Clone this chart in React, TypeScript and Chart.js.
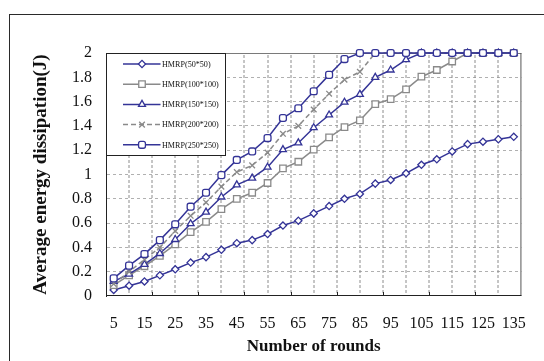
import React, { useEffect, useRef } from 'react';
import { Chart, registerables } from 'chart.js';
import { drawPoint } from 'chart.js/helpers';

Chart.register(...registerables);

const rounds = [5, 10, 15, 20, 25, 30, 35, 40, 45, 50, 55, 60, 65, 70, 75, 80, 85, 90, 95, 100, 105, 110, 115, 120, 125, 130, 135];
const labeledRounds = [5, 15, 25, 35, 45, 55, 65, 75, 85, 95, 105, 115, 125, 135];
const seriesNames = ['HMRP(50*50)', 'HMRP(100*100)', 'HMRP(150*150)', 'HMRP(200*200)', 'HMRP(250*250)'];

const hmrp50 = [0.05, 0.085, 0.12, 0.17, 0.22, 0.275, 0.32, 0.38, 0.435, 0.46, 0.51, 0.58, 0.62, 0.68, 0.74, 0.8, 0.84, 0.925, 0.955, 1.01, 1.08, 1.125, 1.19, 1.25, 1.27, 1.29, 1.31];
const hmrp100 = [0.09, 0.17, 0.245, 0.33, 0.425, 0.525, 0.61, 0.715, 0.8, 0.85, 0.93, 1.05, 1.105, 1.205, 1.305, 1.39, 1.445, 1.58, 1.62, 1.7, 1.805, 1.86, 1.93, 2, 2, 2, 2];
const hmrp150 = [0.12, 0.18, 0.26, 0.35, 0.465, 0.595, 0.69, 0.815, 0.915, 0.97, 1.06, 1.205, 1.26, 1.385, 1.49, 1.595, 1.66, 1.8, 1.86, 1.945, 2, 2, 2, 2, 2, 2, 2];
const hmrp200 = [0.1, 0.2, 0.3, 0.4, 0.535, 0.66, 0.77, 0.9, 1.02, 1.075, 1.18, 1.335, 1.4, 1.535, 1.665, 1.78, 1.845, 2, 2, 2, 2, 2, 2, 2, 2, 2, 2];
const hmrp250 = [0.145, 0.25, 0.345, 0.46, 0.59, 0.735, 0.85, 0.995, 1.12, 1.19, 1.3, 1.465, 1.545, 1.685, 1.82, 1.95, 2, 2, 2, 2, 2, 2, 2, 2, 2, 2, 2];

const BLUE = '#343497';
const GRAY = '#8a8a8a';
const GRID = '#b0b0b0';
const VGRID = '#8c8c8c';
const DARK = '#222222';
const FAMILY = '"Liberation Serif", "Times New Roman", serif';

// x axis range (rounds) and vertical gridline spacing of the original plot
const X_MIN = 2.5;
const X_MAX = 137.5;
const GRID_STEP = 7.5;

export default function App() {
  const ref = useRef<HTMLCanvasElement>(null);

  useEffect(() => {
    document.body.style.margin = '0';
    const canvas = ref.current;
    if (!canvas) return;

    const framePlugin = {
      id: 'framePlugin',
      beforeDraw(chart: any) {
        const { ctx, chartArea: a } = chart;
        ctx.save();
        ctx.fillStyle = '#ffffff';
        ctx.fillRect(a.left, a.top, a.right - a.left, a.bottom - a.top);
        ctx.restore();
      },
      beforeDatasetsDraw(chart: any) {
        const { ctx, chartArea: a } = chart;
        const xs = chart.scales.x;
        ctx.save();
        ctx.lineWidth = 1;
        const n = Math.round((X_MAX - X_MIN) / GRID_STEP);
        for (let k = 1; k < n; k++) {
          const v = X_MIN + k * GRID_STEP;
          const px = Math.round(Number(xs.getPixelForValue(v)));
          if (!isFinite(px)) continue;
          // dashed vertical gridline (slightly soft, like the scanned original)
          ctx.strokeStyle = VGRID;
          ctx.setLineDash([3, 2]);
          ctx.beginPath();
          ctx.moveTo(px, a.top + 2);
          ctx.lineTo(px, a.bottom);
          ctx.stroke();
          if (k % 2 === 0) {
            ctx.setLineDash([]);
            ctx.strokeStyle = DARK;
            ctx.beginPath();
            ctx.moveTo(px + 0.5, a.bottom);
            ctx.lineTo(px + 0.5, a.bottom - 4);
            ctx.stroke();
          }
        }
        ctx.setLineDash([]);
        ctx.strokeStyle = '#7a7a7a';
        ctx.beginPath();
        ctx.moveTo(a.left, a.top + 0.5);
        ctx.lineTo(a.right, a.top + 0.5);
        ctx.stroke();
        ctx.strokeStyle = '#555555';
        ctx.beginPath();
        ctx.moveTo(a.right - 0.5, a.top);
        ctx.lineTo(a.right - 0.5, a.bottom);
        ctx.stroke();
        ctx.strokeStyle = DARK;
        ctx.beginPath();
        ctx.moveTo(a.left, Math.round(a.bottom) - 0.5);
        ctx.lineTo(a.right, Math.round(a.bottom) - 0.5);
        ctx.stroke();
        ctx.restore();
      },
      afterDraw(chart: any) {
        const { ctx, chartArea: a } = chart;
        const x0 = Math.round(a.left) + 0.5;
        const y0 = Math.round(a.top) + 0.5;
        const w = 119;
        const h = 102;
        ctx.save();
        ctx.fillStyle = '#ffffff';
        ctx.fillRect(x0, y0, w, h);
        ctx.strokeStyle = DARK;
        ctx.lineWidth = 1;
        ctx.strokeRect(x0, y0, w, h);
        chart.data.datasets.forEach((ds: any, i: number) => {
          const y = y0 + 10.5 + i * 20.2;
          ctx.strokeStyle = ds.borderColor;
          ctx.lineWidth = ds.borderWidth;
          ctx.setLineDash(ds.borderDash || []);
          ctx.beginPath();
          ctx.moveTo(x0 + 16.5, y);
          ctx.lineTo(x0 + 54, y);
          ctx.stroke();
          ctx.setLineDash([]);
          ctx.fillStyle = '#ffffff';
          ctx.strokeStyle = ds.pointBorderColor;
          ctx.lineWidth = ds.pointBorderWidth;
          drawPoint(ctx, { pointStyle: ds.pointStyle, radius: ds.pointRadius, borderWidth: ds.pointBorderWidth, rotation: 0 } as any, x0 + 35.5, y);
          ctx.save();
          ctx.translate(x0 + 55.5, y);
          ctx.scale(0.9, 1);
          ctx.fillStyle = '#111111';
          ctx.font = `9px ${FAMILY}`;
          ctx.textBaseline = 'middle';
          ctx.textAlign = 'left';
          ctx.fillText(seriesNames[i], 0, 0.5);
          ctx.restore();
        });
        ctx.restore();
      },
    };

    const mk = (i: number, values: number[], color: string, style: string, radius: number, order: number, dash?: number[]) => ({
      label: seriesNames[i],
      data: rounds.map((r, j) => ({ x: r, y: values[j] })),
      borderColor: color,
      backgroundColor: '#ffffff',
      borderWidth: 1.5,
      borderDash: dash || [],
      pointStyle: style,
      pointRadius: radius,
      pointBorderColor: color,
      pointBackgroundColor: '#ffffff',
      pointBorderWidth: 1.3,
      tension: 0,
      fill: false,
      clip: false,
      order,
    });

    const chart = new Chart(canvas, {
      type: 'line',
      data: {
        datasets: [
          mk(0, hmrp50, BLUE, 'rectRot', 3.6, 5),
          mk(1, hmrp100, GRAY, 'rect', 4.6, 4),
          mk(2, hmrp150, BLUE, 'triangle', 4, 3),
          mk(3, hmrp200, GRAY, 'crossRot', 4, 2, [5, 3]),
          mk(4, hmrp250, BLUE, 'rectRounded', 4, 1),
        ] as any,
      },
      options: {
        animation: false,
        responsive: false,
        maintainAspectRatio: false,
        layout: { padding: { left: 0, top: 53, right: 14, bottom: 0 } },
        plugins: { legend: { display: false }, tooltip: { enabled: false } },
        scales: {
          x: {
            type: 'linear',
            position: 'bottom',
            min: X_MIN,
            max: X_MAX,
            afterBuildTicks: (s: any) => {
              s.ticks = labeledRounds.map((v) => ({ value: v }));
            },
            grid: { display: false, drawTicks: false },
            border: { display: false },
            ticks: {
              autoSkip: false,
              maxRotation: 0,
              maxTicksLimit: 1000,
              padding: 18,
              color: '#111111',
              font: { family: FAMILY, size: 16 },
              callback: (v: any) => String(v),
            },
            title: {
              display: true,
              text: 'Number of rounds',
              color: '#111111',
              font: { family: FAMILY, size: 17, weight: 'bold' },
              padding: { top: 0, bottom: 4 },
            },
            afterFit: (s: any) => {
              s.height = 65;
            },
          },
          y: {
            type: 'linear',
            position: 'left',
            min: 0,
            max: 2,
            ticks: {
              stepSize: 0.2,
              padding: 14,
              color: '#111111',
              font: { family: FAMILY, size: 16 },
              callback: (v: any) => String(Math.round(Number(v) * 10) / 10),
            },
            grid: {
              drawTicks: false,
              color: (c: any) => (c.tick && (c.tick.value === 0 || Math.abs(c.tick.value - 2) < 1e-9) ? 'rgba(0,0,0,0)' : GRID),
            },
            border: { display: true, color: DARK, width: 1, dash: [3, 3] },
            title: {
              display: true,
              text: 'Average energy dissipation(J)',
              color: '#111111',
              font: { family: FAMILY, size: 19, weight: 'bold' },
              padding: { top: 30, bottom: 0 },
            },
            afterFit: (s: any) => {
              s.width = 106;
            },
          },
        },
      } as any,
      plugins: [framePlugin],
    });

    return () => {
      chart.destroy();
    };
  }, []);

  return (
    <div style={{ position: 'relative', width: 544, height: 361, overflow: 'hidden', background: '#ffffff' }}>
      <div
        style={{
          position: 'absolute',
          left: 9,
          top: 14,
          width: 600,
          height: 400,
          border: '1px solid #2a2a2a',
          boxSizing: 'border-box',
        }}
      />
      <canvas ref={ref} width={544} height={361} style={{ position: 'absolute', left: 0, top: 0, display: 'block' }} />
    </div>
  );
}
